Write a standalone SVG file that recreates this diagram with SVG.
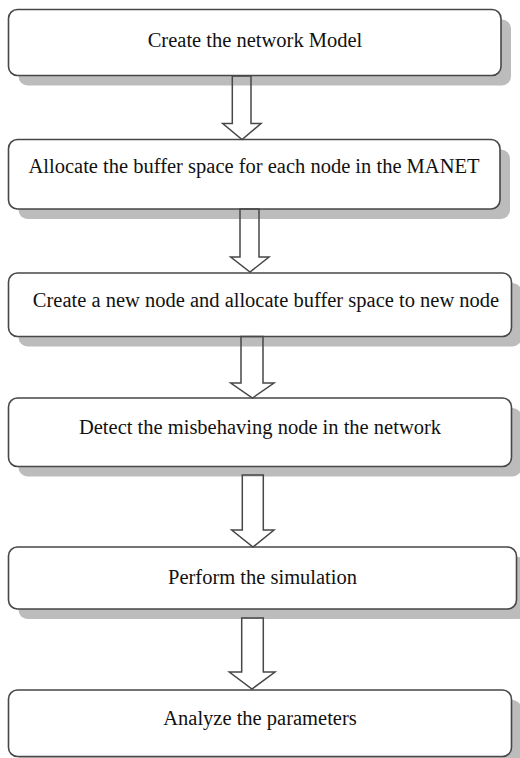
<svg xmlns="http://www.w3.org/2000/svg" width="520" height="758" viewBox="0 0 520 758">
  <style>
    .shadow { fill: #bcbcbc; stroke: none; }
    .box { fill: #ffffff; stroke: #474747; stroke-width: 1.6; }
    .label { font-family: "Liberation Serif", "Times New Roman", serif; font-size: 20.5px; fill: #111111; text-anchor: middle; }
    .flow { fill: none; stroke: #474747; stroke-width: 1.5; stroke-linejoin: miter; }
  </style>
  <rect width="520" height="758" fill="#ffffff"/>

  <!-- drop shadows -->
  <g id="shadows">
    <rect class="shadow" x="18.5" y="19.5" width="492.5" height="66" rx="9"/>
    <rect class="shadow" x="18.5" y="149.5" width="491.5" height="69.5" rx="9"/>
    <rect class="shadow" x="18.5" y="283" width="503" height="63.5" rx="9"/>
    <rect class="shadow" x="18.5" y="408" width="503" height="68.5" rx="9"/>
    <rect class="shadow" x="18.5" y="557" width="508" height="62" rx="9"/>
    <rect class="shadow" x="18.5" y="700" width="503" height="66.5" rx="9"/>
  </g>

  <g id="step1">
    <rect class="box" x="8.5" y="9.5" width="492.5" height="66" rx="9"/>
    <text class="label" x="255" y="47">Create the network Model</text>
  </g>
  <g id="step2">
    <rect class="box" x="8.5" y="139.5" width="491.5" height="69.5" rx="9"/>
    <text class="label" x="254" y="173">Allocate the buffer space for each node in the MANET</text>
  </g>
  <g id="step3">
    <rect class="box" x="8.5" y="273" width="503" height="63.5" rx="9"/>
    <text class="label" x="266" y="307">Create a new node and allocate buffer space to new node</text>
  </g>
  <g id="step4">
    <rect class="box" x="8.5" y="398" width="503" height="68.5" rx="9"/>
    <text class="label" x="260" y="434">Detect the misbehaving node in the network</text>
  </g>
  <g id="step5">
    <rect class="box" x="8.5" y="547" width="508" height="62" rx="9"/>
    <text class="label" x="262.5" y="584">Perform the simulation</text>
  </g>
  <g id="step6">
    <rect class="box" x="8.5" y="690" width="503" height="66.5" rx="9"/>
    <text class="label" x="260" y="725">Analyze the parameters</text>
  </g>

  <!-- hollow block arrows between steps -->
  <g id="connectors">
    <polygon class="flow" points="232.3,76 251,76 251,123.5 261,123.5 242,139.5 222.7,123.5 232.3,123.5"/>
    <polygon class="flow" points="240,209 259,209 259,257 269,257 250,272 230.7,257 240,257"/>
    <polygon class="flow" points="241,336.5 263,336.5 263,383 274,383 252.5,398 230.7,383 241,383"/>
    <polygon class="flow" points="242.3,475 263.3,475 263.3,530 274,530 253,547 231.7,530 242.3,530"/>
    <polygon class="flow" points="241.7,618 263.3,618 263.3,672 275,672 252,689 229.3,672 241.7,672"/>
  </g>
</svg>
